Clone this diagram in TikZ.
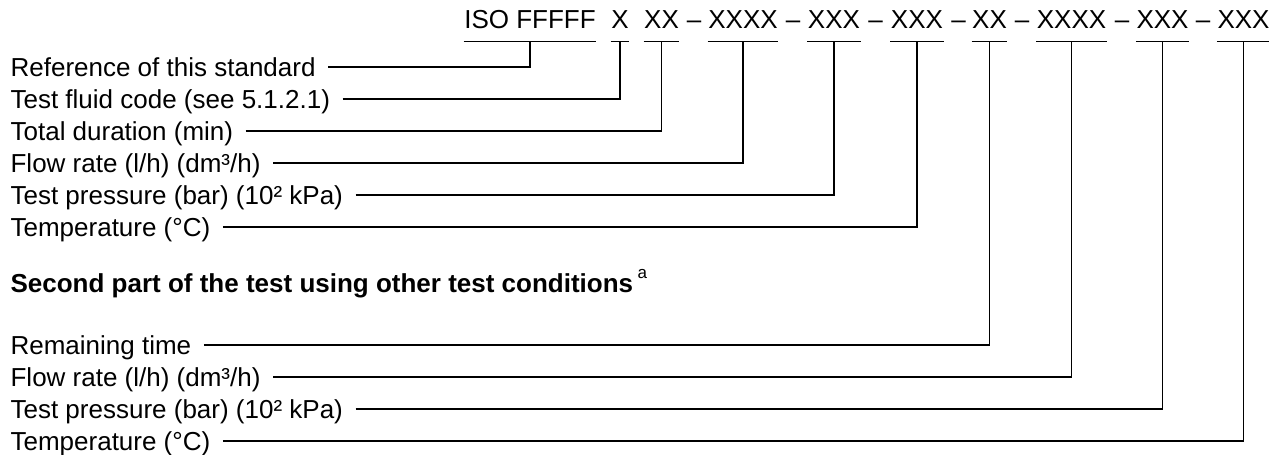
\documentclass[tikz,border=0pt]{standalone}
\usepackage{fontspec}
\setmainfont{Liberation Sans}

\begin{document}
\begin{tikzpicture}[
x=1pt, y=-1pt,
font=\fontsize{26}{31}\selectfont,
line width=1.2pt,
lbl/.style={anchor=west, inner sep=0pt, text height=18.6pt, text depth=0pt},
codepart/.style={anchor=base, inner sep=0pt, text height=18.6pt, text depth=12.6pt}]
\useasboundingbox (0,0) rectangle (1269,455);
\node[codepart] (iso) at (530,28) {ISO FFFFF};
\node[codepart] (fluid) at (620,28) {X};
\node[codepart] (dur) at (661.5,28) {XX};
\node[codepart] (d1) at (694,28) {--};
\node[codepart] (flow) at (743,28) {XXXX};
\node[codepart] (d2) at (793,28) {--};
\node[codepart] (pres) at (834,28) {XXX};
\node[codepart] (d3) at (875.5,28) {--};
\node[codepart] (temp) at (917,28) {XXX};
\node[codepart] (d4) at (958.5,28) {--};
\node[codepart] (rem) at (989.5,28) {XX};
\node[codepart] (d5) at (1022,28) {--};
\node[codepart] (flowb) at (1071.5,28) {XXXX};
\node[codepart] (d6) at (1122,28) {--};
\node[codepart] (presb) at (1162.5,28) {XXX};
\node[codepart] (d7) at (1203,28) {--};
\node[codepart] (tempb) at (1243.5,28) {XXX};
\foreach \n in {iso,fluid,dur,flow,pres,temp,rem,flowb,presb,tempb}
  \draw (\n.south west) -- (\n.south east);

\node[lbl] (l1) at (10,67) {Reference of this standard};
\node[lbl] (l2) at (10,99) {Test fluid code (see 5.1.2.1)};
\node[lbl] (l3) at (10,131) {Total duration (min)};
\node[lbl] (l4) at (10,163) {Flow rate (l/h) (dm³/h)};
\node[lbl] (l5) at (10,195) {Test pressure (bar) (10² kPa)};
\node[lbl] (l6) at (10,227) {Temperature (°C)};
\node[lbl] (hd) at (10,283) {\textbf{Second part of the test using other test conditions}\,\raisebox{.55em}{\fontsize{17}{20}\selectfont a}};
\node[lbl] (l7) at (10,345) {Remaining time};
\node[lbl] (l8) at (10,377) {Flow rate (l/h) (dm³/h)};
\node[lbl] (l9) at (10,409) {Test pressure (bar) (10² kPa)};
\node[lbl] (l10) at (10,441) {Temperature (°C)};

\draw ([xshift=12pt]l1.east) -| (iso.south);
\draw ([xshift=12pt]l2.east) -| (fluid.south);
\draw ([xshift=12pt]l3.east) -| (dur.south);
\draw ([xshift=12pt]l4.east) -| (flow.south);
\draw ([xshift=12pt]l5.east) -| (pres.south);
\draw ([xshift=12pt]l6.east) -| (temp.south);
\draw ([xshift=12pt]l7.east) -| (rem.south);
\draw ([xshift=12pt]l8.east) -| (flowb.south);
\draw ([xshift=12pt]l9.east) -| (presb.south);
\draw ([xshift=12pt]l10.east) -| (tempb.south);
\end{tikzpicture}
\end{document}
